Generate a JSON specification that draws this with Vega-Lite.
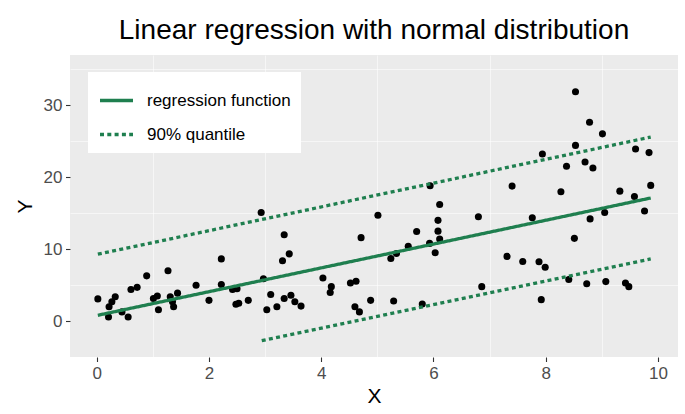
{
  "$schema": "https://vega.github.io/schema/vega-lite/v6.json",
  "width": 608,
  "height": 302,
  "autosize": {"type": "none"},
  "padding": {"left": 70, "top": 55, "right": 7, "bottom": 57},
  "background": "white",
  "title": {
    "text": "Linear regression with normal distribution",
    "font": "Liberation Sans",
    "fontSize": 28,
    "fontWeight": "normal",
    "color": "black",
    "anchor": "middle",
    "offset": 10
  },
  "config": {
    "view": {"fill": "#EBEBEB", "stroke": null},
    "axis": {
      "gridColor": "white",
      "gridWidth": 1.1,
      "domain": false,
      "tickColor": "#333333",
      "tickWidth": 1.1,
      "tickSize": 4.5,
      "labelFont": "Liberation Sans",
      "labelFontSize": 17,
      "labelColor": "#4D4D4D",
      "labelPadding": 3.5,
      "titleFont": "Liberation Sans",
      "titleFontSize": 21,
      "titleFontWeight": "normal",
      "titleColor": "black"
    }
  },
  "datasets": {
    "pts": [
      {"X": 0.02, "Y": 3.1}, {"X": 0.21, "Y": 0.6}, {"X": 0.22, "Y": 2.0}, {"X": 0.27, "Y": 2.7},
      {"X": 0.33, "Y": 3.4}, {"X": 0.45, "Y": 1.3}, {"X": 0.56, "Y": 0.6}, {"X": 0.61, "Y": 4.4},
      {"X": 0.72, "Y": 4.7}, {"X": 0.89, "Y": 6.3}, {"X": 1.01, "Y": 3.15}, {"X": 1.08, "Y": 3.5},
      {"X": 1.1, "Y": 1.6}, {"X": 1.27, "Y": 7.0}, {"X": 1.31, "Y": 3.4}, {"X": 1.37, "Y": 2.0},
      {"X": 1.35, "Y": 2.7}, {"X": 1.44, "Y": 3.9}, {"X": 1.77, "Y": 5.0}, {"X": 2.0, "Y": 2.9},
      {"X": 2.22, "Y": 8.65}, {"X": 2.22, "Y": 5.1}, {"X": 2.42, "Y": 4.4}, {"X": 2.5, "Y": 4.5},
      {"X": 2.48, "Y": 2.36}, {"X": 2.53, "Y": 2.5}, {"X": 2.7, "Y": 2.9}, {"X": 2.93, "Y": 15.1},
      {"X": 2.97, "Y": 5.9}, {"X": 3.03, "Y": 1.6}, {"X": 3.1, "Y": 3.7}, {"X": 3.21, "Y": 2.0},
      {"X": 3.31, "Y": 8.4}, {"X": 3.34, "Y": 12.0}, {"X": 3.43, "Y": 9.35}, {"X": 3.34, "Y": 3.15},
      {"X": 3.46, "Y": 3.6}, {"X": 3.53, "Y": 2.7}, {"X": 3.64, "Y": 2.1}, {"X": 4.03, "Y": 6.0},
      {"X": 4.18, "Y": 4.8}, {"X": 4.16, "Y": 4.0}, {"X": 4.52, "Y": 5.3}, {"X": 4.62, "Y": 5.55},
      {"X": 4.6, "Y": 2.0}, {"X": 4.68, "Y": 1.3}, {"X": 4.71, "Y": 11.6}, {"X": 4.88, "Y": 2.9},
      {"X": 5.01, "Y": 14.7}, {"X": 5.24, "Y": 8.7}, {"X": 5.34, "Y": 9.4}, {"X": 5.29, "Y": 2.8},
      {"X": 5.55, "Y": 10.4}, {"X": 5.7, "Y": 12.45}, {"X": 5.8, "Y": 2.4}, {"X": 5.93, "Y": 10.8},
      {"X": 5.94, "Y": 18.8}, {"X": 6.03, "Y": 9.5}, {"X": 6.08, "Y": 14.0}, {"X": 6.08, "Y": 12.5},
      {"X": 6.11, "Y": 11.4}, {"X": 6.11, "Y": 16.2}, {"X": 6.8, "Y": 14.5}, {"X": 6.86, "Y": 4.8},
      {"X": 7.31, "Y": 9.0}, {"X": 7.4, "Y": 18.75}, {"X": 7.59, "Y": 8.3}, {"X": 7.76, "Y": 14.35},
      {"X": 7.88, "Y": 8.25}, {"X": 7.94, "Y": 23.2}, {"X": 7.99, "Y": 7.5}, {"X": 7.92, "Y": 3.0},
      {"X": 8.53, "Y": 31.85}, {"X": 8.78, "Y": 27.6}, {"X": 9.01, "Y": 26.0}, {"X": 8.53, "Y": 24.4},
      {"X": 8.37, "Y": 21.5}, {"X": 8.7, "Y": 22.1}, {"X": 8.84, "Y": 21.25}, {"X": 9.6, "Y": 23.9},
      {"X": 9.84, "Y": 23.4}, {"X": 8.27, "Y": 17.96}, {"X": 9.32, "Y": 18.05}, {"X": 9.58, "Y": 17.3},
      {"X": 9.87, "Y": 18.85}, {"X": 9.76, "Y": 15.3}, {"X": 9.05, "Y": 15.1}, {"X": 8.79, "Y": 14.2},
      {"X": 8.51, "Y": 11.5}, {"X": 8.41, "Y": 5.8}, {"X": 8.73, "Y": 5.2}, {"X": 9.07, "Y": 5.5},
      {"X": 9.42, "Y": 5.3}, {"X": 9.48, "Y": 4.8}
    ],
    "lines": [
      {"X": 0.02, "Y": 0.83, "series": "regression function", "seg": "reg"},
      {"X": 9.87, "Y": 17.1, "series": "regression function", "seg": "reg"},
      {"X": 0.02, "Y": 9.3, "series": "90% quantile", "seg": "upper"},
      {"X": 9.87, "Y": 25.55, "series": "90% quantile", "seg": "upper"},
      {"X": 2.94, "Y": -2.7, "series": "90% quantile", "seg": "lower"},
      {"X": 9.87, "Y": 8.65, "series": "90% quantile", "seg": "lower"}
    ]
  },
  "resolve": {"axis": {"x": "independent", "y": "independent"}},
  "layer": [
    {
      "data": {"name": "pts"},
      "mark": {"type": "point", "opacity": 0},
      "encoding": {
        "x": {"field": "X", "type": "quantitative", "scale": {"domain": [-0.476, 10.356], "nice": false, "zero": false},
          "axis": {"orient": "bottom", "values": [1, 3, 5, 7, 9], "labels": false, "ticks": false, "gridWidth": 0.55, "title": null}},
        "y": {"field": "Y", "type": "quantitative", "scale": {"domain": [-4.96, 36.94], "nice": false, "zero": false},
          "axis": {"orient": "left", "values": [-5, 5, 15, 25, 35], "labels": false, "ticks": false, "gridWidth": 0.55, "title": null}}
      }
    },
    {
      "data": {"name": "pts"},
      "mark": {"type": "circle", "color": "black", "opacity": 1, "size": 50},
      "encoding": {
        "x": {"field": "X", "type": "quantitative", "axis": {"orient": "bottom", "values": [0, 2, 4, 6, 8, 10], "title": "X", "titlePadding": 4}},
        "y": {"field": "Y", "type": "quantitative", "axis": {"orient": "left", "values": [0, 10, 20, 30], "title": "Y", "titlePadding": 8}}
      }
    },
    {
      "data": {"name": "lines"},
      "mark": {"type": "line", "strokeWidth": 3.3, "strokeCap": "butt"},
      "encoding": {
        "x": {"field": "X", "type": "quantitative", "axis": null},
        "y": {"field": "Y", "type": "quantitative", "axis": null},
        "detail": {"field": "seg"},
        "color": {"field": "series", "type": "nominal",
          "scale": {"domain": ["regression function", "90% quantile"], "range": ["#1F7F4F", "#1F7F4F"]},
          "legend": {"title": null, "orient": "none", "legendX": 18, "legendY": 17, "fillColor": "white", "padding": 10,
            "symbolType": "stroke", "symbolSize": 1089, "symbolStrokeWidth": 3.3, "labelFont": "Liberation Sans", "labelFontSize": 17,
            "labelColor": "black", "labelOffset": 12, "rowPadding": 7}},
        "strokeDash": {"field": "series", "type": "nominal",
          "scale": {"domain": ["regression function", "90% quantile"], "range": [[1, 0], [4, 3.3]]},
          "legend": {"title": null, "orient": "none", "legendX": 18, "legendY": 17, "fillColor": "white", "padding": 10,
            "symbolType": "stroke", "symbolSize": 1089, "symbolStrokeWidth": 3.3, "labelFont": "Liberation Sans", "labelFontSize": 17,
            "labelColor": "black", "labelOffset": 12, "rowPadding": 7}}
      }
    }
  ]
}
